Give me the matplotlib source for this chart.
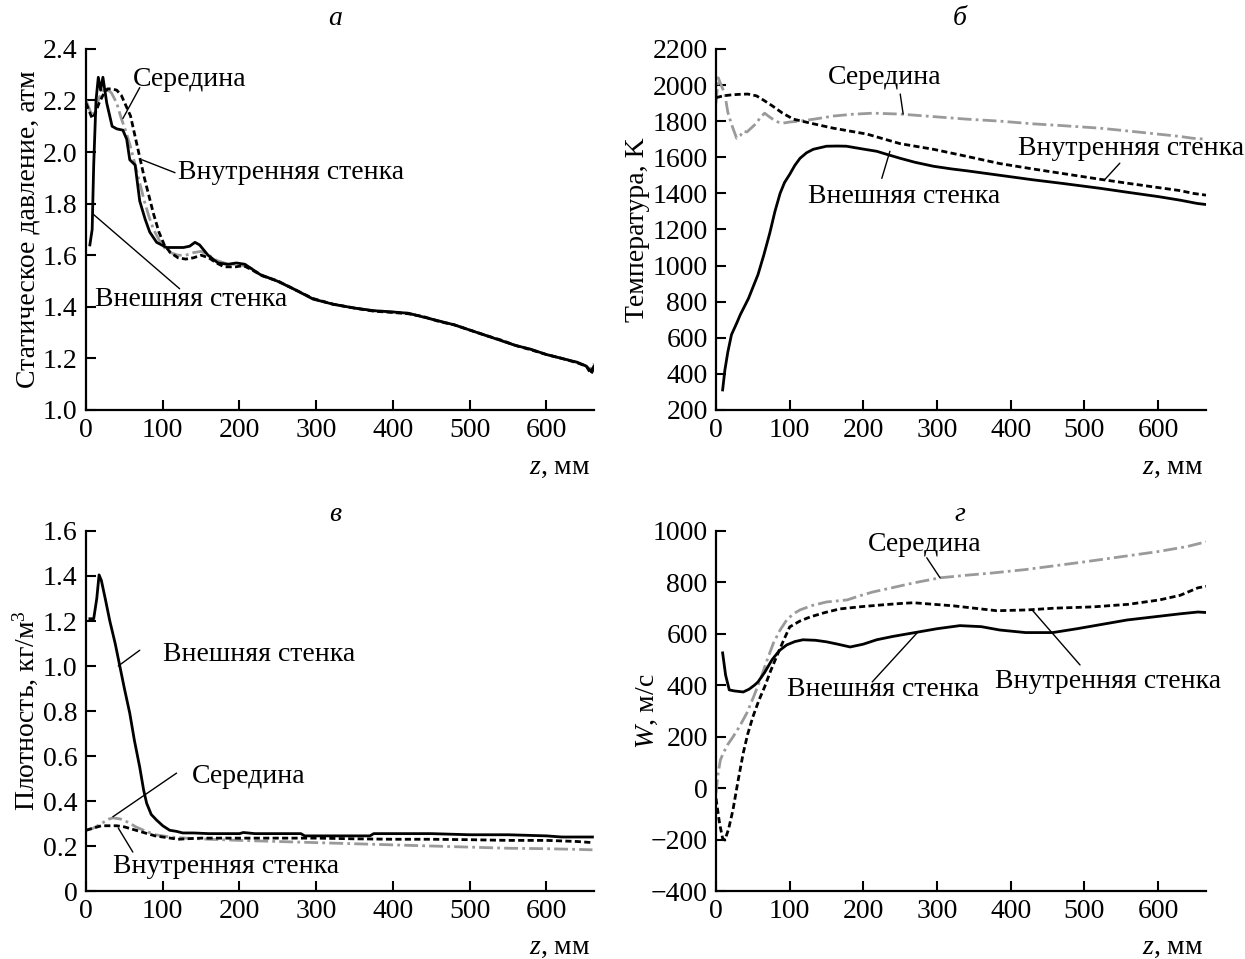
import matplotlib
matplotlib.use("Agg")
import matplotlib.pyplot as plt

plt.rcParams['font.family'] = ['Liberation Serif', 'DejaVu Serif']
plt.rcParams['mathtext.fontset'] = 'custom'
plt.rcParams['mathtext.rm'] = 'Liberation Serif'
plt.rcParams['mathtext.it'] = 'Liberation Serif:italic'
plt.rcParams['font.size'] = 20

# --- а: static pressure, atm ---
p_outer_z = [5, 8, 10, 13, 16, 19, 22, 27, 34, 40, 48, 53, 57, 64, 70, 77, 83, 92, 105, 127, 135,
             142, 148, 159, 172, 185, 196, 207, 227, 249, 270, 296, 322, 350, 375, 400, 420, 440,
             460, 480, 500, 520, 540, 560, 580, 600, 620, 640, 652, 658, 662]
p_outer = [1.64, 1.70, 1.95, 2.20, 2.29, 2.24, 2.29, 2.19, 2.10, 2.09, 2.085, 2.05, 1.97, 1.95, 1.81,
           1.74, 1.69, 1.65, 1.63, 1.63, 1.635, 1.65, 1.64, 1.60, 1.57, 1.565, 1.57, 1.565, 1.525,
           1.50, 1.47, 1.43, 1.41, 1.395, 1.385, 1.38, 1.375, 1.36, 1.345, 1.33, 1.31, 1.29, 1.27,
           1.25, 1.235, 1.215, 1.20, 1.185, 1.17, 1.15, 1.17]
p_inner_z = [0, 4, 8, 12, 17, 22, 28, 34, 40, 46, 52, 58, 64, 70, 76, 82, 88, 95, 102, 110, 120, 130,
             140, 150, 160, 170, 180, 195, 205, 215, 230, 250, 270, 296, 322, 350, 375, 400, 420,
             440, 460, 480, 500, 520, 540, 560, 580, 600, 620, 640, 652, 658, 662]
p_inner = [2.19, 2.16, 2.13, 2.15, 2.19, 2.22, 2.245, 2.245, 2.24, 2.22, 2.18, 2.14, 2.06, 1.98, 1.90,
           1.83, 1.76, 1.69, 1.64, 1.61, 1.59, 1.585, 1.59, 1.60, 1.59, 1.57, 1.555, 1.555, 1.56,
           1.545, 1.52, 1.50, 1.47, 1.432, 1.41, 1.395, 1.383, 1.378, 1.373, 1.362, 1.343, 1.33,
           1.31, 1.29, 1.272, 1.25, 1.233, 1.215, 1.20, 1.183, 1.17, 1.14, 1.16]
p_mid_z = [0, 4, 8, 12, 17, 22, 27, 33, 40, 46, 52, 58, 64, 70, 76, 82, 88, 95, 102, 110, 120, 130,
           140, 150, 160, 170, 185, 200, 215, 230, 250, 270, 296, 322, 350, 375, 400, 420, 440, 460,
           480, 500, 520, 540, 560, 580, 600, 620, 640, 652, 658, 662]
p_mid = [2.20, 2.17, 2.14, 2.16, 2.21, 2.24, 2.245, 2.23, 2.19, 2.13, 2.08, 2.02, 1.95, 1.88, 1.81,
         1.75, 1.70, 1.66, 1.63, 1.61, 1.60, 1.60, 1.61, 1.615, 1.60, 1.58, 1.565, 1.565, 1.55,
         1.52, 1.50, 1.47, 1.43, 1.41, 1.395, 1.385, 1.38, 1.375, 1.36, 1.345, 1.33, 1.31, 1.29,
         1.27, 1.25, 1.235, 1.215, 1.20, 1.185, 1.17, 1.16, 1.18]

# --- б: temperature, K ---
t_outer_z = [9, 12, 16, 21, 28, 33, 44, 57, 65, 73, 80, 87, 93, 100, 107, 114, 123, 132, 150, 165, 177,
             200, 218, 235, 250, 270, 295, 320, 340, 385, 430, 470, 521, 560, 600, 630, 653, 665]
t_outer = [311, 420, 520, 617, 680, 728, 817, 950, 1060, 1180, 1300, 1400, 1460, 1505, 1555, 1594, 1625,
           1644, 1661, 1662, 1661, 1645, 1633, 1612, 1594, 1572, 1550, 1535, 1525, 1500, 1475, 1455,
           1428, 1405, 1382, 1362, 1344, 1338]
t_inner_z = [0, 10, 20, 30, 43, 55, 65, 77, 90, 105, 128, 159, 205, 250, 295, 340, 385, 430, 470, 521,
             560, 600, 630, 647, 665]
t_inner = [1930, 1940, 1945, 1948, 1950, 1940, 1915, 1883, 1845, 1811, 1789, 1761, 1728, 1675, 1644,
           1605, 1565, 1535, 1510, 1478, 1455, 1432, 1415, 1400, 1390]
t_mid_z = [0, 3, 7, 12, 16, 21, 28, 33, 37, 42, 46, 50, 55, 60, 66, 72, 77, 84, 91, 100, 114, 135, 159,
           185, 213, 250, 295, 340, 385, 430, 470, 521, 560, 600, 630, 647, 665]
t_mid = [1900, 2040, 2000, 1950, 1850, 1783, 1705, 1720, 1744, 1740, 1755, 1770, 1789, 1820, 1844,
         1825, 1811, 1795, 1789, 1795, 1800, 1812, 1828, 1838, 1844, 1839, 1825, 1811, 1800, 1785,
         1775, 1761, 1745, 1728, 1715, 1705, 1700]

# --- в: density, kg/m3 ---
r_outer_z = [5, 10, 14, 17, 20, 25, 31, 38, 44, 50, 57, 63, 70, 75, 79, 85, 92, 100, 109, 118, 126,
             140, 160, 180, 200, 205, 220, 250, 280, 285, 300, 330, 360, 370, 375, 400, 450, 500, 550,
             600, 620, 640, 660]
r_outer = [1.21, 1.21, 1.30, 1.405, 1.38, 1.30, 1.20, 1.10, 1.00, 0.90, 0.79, 0.67, 0.55, 0.45, 0.39,
           0.34, 0.315, 0.29, 0.27, 0.265, 0.258, 0.258, 0.255, 0.255, 0.255, 0.26, 0.255, 0.255,
           0.255, 0.245, 0.245, 0.245, 0.245, 0.245, 0.255, 0.255, 0.255, 0.25, 0.25, 0.245, 0.24,
           0.24, 0.24]
r_inner_z = [0, 10, 20, 30, 40, 50, 60, 70, 80, 90, 100, 110, 120, 130, 150, 200, 250, 300, 350, 400,
             450, 500, 550, 600, 640, 660]
r_inner = [0.27, 0.28, 0.29, 0.29, 0.29, 0.285, 0.275, 0.265, 0.255, 0.245, 0.24, 0.235, 0.23, 0.232,
           0.235, 0.235, 0.235, 0.235, 0.232, 0.23, 0.23, 0.228, 0.225, 0.225, 0.22, 0.215]
r_mid_z = [0, 10, 20, 30, 35, 45, 55, 65, 75, 90, 110, 130, 160, 200, 250, 300, 350, 400, 450, 500,
           550, 600, 640, 660]
r_mid = [0.27, 0.28, 0.30, 0.32, 0.325, 0.32, 0.305, 0.285, 0.27, 0.25, 0.24, 0.235, 0.23, 0.225,
         0.22, 0.215, 0.21, 0.205, 0.20, 0.195, 0.19, 0.188, 0.185, 0.183]

# --- г: velocity W, m/s ---
w_outer_z = [9, 13, 18, 25, 37, 45, 52, 57, 66, 76, 86, 96, 107, 118, 135, 150, 165, 182, 200, 218,
             240, 268, 300, 331, 360, 385, 420, 457, 490, 520, 558, 600, 630, 654, 665]
w_outer = [526, 440, 382, 378, 374, 385, 400, 413, 450, 499, 535, 557, 570, 577, 575, 569, 560, 549,
           560, 577, 590, 604, 620, 632, 628, 615, 605, 605, 620, 635, 654, 668, 678, 685, 683]
w_inner_z = [0, 5, 9, 12, 17, 23, 30, 37, 43, 50, 58, 66, 74, 82, 91, 100, 114, 128, 148, 168, 198,
             227, 250, 268, 295, 322, 350, 381, 422, 460, 512, 560, 602, 630, 654, 665]
w_inner = [-40, -140, -195, -202, -160, -85, 30, 137, 210, 277, 340, 394, 455, 510, 570, 627, 650, 666,
           683, 697, 706, 713, 718, 721, 715, 709, 700, 690, 693, 700, 705, 715, 732, 750, 779, 785]
w_mid_z = [0, 3, 6, 10, 16, 23, 32, 42, 51, 60, 69, 78, 87, 96, 105, 114, 130, 150, 178, 195, 213,
           240, 268, 304, 340, 376, 420, 460, 500, 550, 600, 640, 665]
w_mid = [-20, 60, 110, 137, 170, 199, 240, 293, 355, 421, 495, 565, 615, 654, 678, 693, 710, 724, 732,
         748, 763, 780, 798, 818, 828, 837, 850, 865, 880, 900, 920, 940, 958]

outer_name = 'Внешняя стенка'
inner_name = 'Внутренняя стенка'
mid_name = 'Середина'

GRAY = '#9a9a9a'

fig = plt.figure(figsize=(12.45, 9.59), dpi=100)
ax_a = fig.add_axes([0.0691, 0.5725, 0.4080, 0.3765])
ax_b = fig.add_axes([0.5751, 0.5725, 0.3936, 0.3765])
ax_c = fig.add_axes([0.0691, 0.0709, 0.4080, 0.3754])
ax_d = fig.add_axes([0.5751, 0.0709, 0.3936, 0.3754])


def draw(ax, zo, yo, zi, yi, zm, ym):
    ax.plot(zm, ym, color=GRAY, lw=2.0, dashes=(5, 1.5, 1, 1.5))
    ax.plot(zi, yi, color='black', lw=2.0, dashes=(2.2, 1.2))
    ax.plot(zo, yo, color='black', lw=2.0)
    ax.set_xlim(0, 662)
    ax.set_xticks(range(0, 700, 100))
    for s in ('top', 'right'):
        ax.spines[s].set_visible(False)
    for s in ('left', 'bottom'):
        ax.spines[s].set_linewidth(1.6)
    ax.tick_params(direction='in', length=7, width=1.5, labelsize=20, pad=6)


def note(ax, text, txt_xy, start, tip):
    ax.annotate('', xy=tip, xytext=start,
                arrowprops=dict(arrowstyle='-', lw=1.0, color='black', shrinkA=0, shrinkB=0))
    ax.text(txt_xy[0], txt_xy[1], text, ha='left', va='center', fontsize=20)


draw(ax_a, p_outer_z, p_outer, p_inner_z, p_inner, p_mid_z, p_mid)
ax_a.set_ylim(1.0, 2.4)
ax_a.set_yticks([1.0, 1.2, 1.4, 1.6, 1.8, 2.0, 2.2, 2.4])
ax_a.set_yticklabels(['1.0', '1.2', '1.4', '1.6', '1.8', '2.0', '2.2', '2.4'])
ax_a.set_ylabel('Статическое давление, атм')
ax_a.yaxis.set_label_coords(-0.09, 0.5)
note(ax_a, mid_name, (61, 2.28), (70, 2.25), (48, 2.13))
note(ax_a, inner_name, (120, 1.92), (116, 1.92), (73, 1.97))
note(ax_a, outer_name, (12, 1.43), (122, 1.47), (9, 1.76))

draw(ax_b, t_outer_z, t_outer, t_inner_z, t_inner, t_mid_z, t_mid)
ax_b.set_xlim(0, 665)
ax_b.set_ylim(200, 2200)
ax_b.set_yticks(range(200, 2400, 200))
ax_b.set_ylabel('Температура, K')
ax_b.yaxis.set_label_coords(-0.135, 0.5)
note(ax_b, mid_name, (152, 2039), (250, 1950), (254, 1839))
note(ax_b, inner_name, (410, 1650), (548, 1567), (528, 1478))
note(ax_b, outer_name, (125, 1383), (225, 1483), (236, 1633))

draw(ax_c, r_outer_z, r_outer, r_inner_z, r_inner, r_mid_z, r_mid)
ax_c.set_ylim(0, 1.6)
ax_c.set_yticks([0, 0.2, 0.4, 0.6, 0.8, 1.0, 1.2, 1.4, 1.6])
ax_c.set_yticklabels(['0', '0.2', '0.4', '0.6', '0.8', '1.0', '1.2', '1.4', '1.6'])
ax_c.set_ylabel('Плотность, кг/м$^3$')
ax_c.yaxis.set_label_coords(-0.09, 0.5)
note(ax_c, outer_name, (100, 1.05), (70, 1.07), (42, 1.00))
note(ax_c, mid_name, (138, 0.507), (118, 0.524), (35, 0.33))
note(ax_c, inner_name, (35, 0.107), (61, 0.173), (42, 0.28))

draw(ax_d, w_outer_z, w_outer, w_inner_z, w_inner, w_mid_z, w_mid)
ax_d.set_xlim(0, 665)
ax_d.set_ylim(-400, 1000)
ax_d.set_yticks(range(-400, 1200, 200))
ax_d.set_yticklabels([str(v).replace('-', '\u2212') for v in range(-400, 1200, 200)])
ax_d.set_ylabel('$W$, м/с')
ax_d.yaxis.set_label_coords(-0.115, 0.5)
note(ax_d, mid_name, (206, 946), (286, 896), (304, 818))
note(ax_d, outer_name, (96, 382), (212, 413), (273, 604))
note(ax_d, inner_name, (379, 413), (494, 479), (429, 693))

# panel letters and axis captions
for x, y, s in [(0.2695, 0.981, 'а'), (0.771, 0.981, 'б'), (0.269, 0.463, 'в'), (0.771, 0.463, 'г')]:
    fig.text(x, y, s, ha='center', va='center', fontsize=20, fontstyle='italic')
for x, y in [(0.474, 0.513), (0.967, 0.513), (0.474, 0.0115), (0.967, 0.0115)]:
    fig.text(x, y, '$z$, мм', ha='right', va='center', fontsize=20)

fig.savefig('out.png', dpi=100, facecolor='white')
